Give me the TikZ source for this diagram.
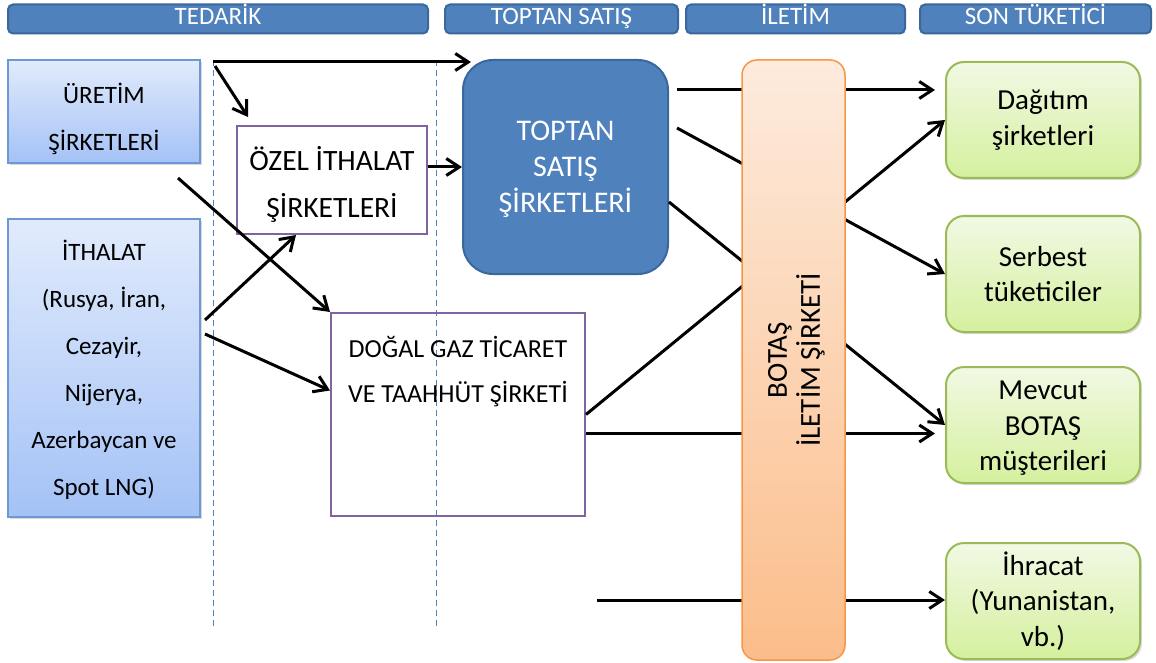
\documentclass[tikz,border=0pt]{standalone}
\usepackage{fontspec}
\setmainfont{Carlito}
\usepackage{tikz}
\usetikzlibrary{arrows.meta, calc, positioning, shadows}

\definecolor{barblue}{HTML}{4F81BD}
\definecolor{bardark}{HTML}{3A679C}
\definecolor{srcline}{HTML}{6F97D3}
\definecolor{srctop}{HTML}{E1EBFC}
\definecolor{srcbottom}{HTML}{A4C2F6}
\definecolor{firmline}{HTML}{8064A2}
\definecolor{pipeline}{HTML}{F79646}
\definecolor{pipetop}{HTML}{FDEBDD}
\definecolor{pipebottom}{HTML}{FBBD8A}
\definecolor{userline}{HTML}{9BBB59}
\definecolor{usertop}{HTML}{F1F9E4}
\definecolor{userbottom}{HTML}{D5F09E}

% taller first line, pushes a text block down
\newcommand{\topgap}[1]{\rule{0pt}{#1}}

\tikzstyle{header} = [rectangle, rounded corners=5pt, draw=bardark, line width=2pt, fill=barblue, text=white, minimum height=29pt, inner sep=0pt, text height=16pt, text depth=4pt, font=\fontsize{25}{30}\selectfont]
\tikzstyle{source} = [rectangle, draw=srcline, line width=1.2pt, top color=srctop, bottom color=srcbottom, minimum width=192pt, inner sep=0pt, align=center, font=\fontsize{25}{47}\selectfont, drop shadow={shadow xshift=2pt, shadow yshift=-2pt, opacity=0.3}]
\tikzstyle{firm} = [rectangle, draw=firmline, line width=2pt, inner sep=0pt, align=center]
\tikzstyle{wholesale} = [rectangle, rounded corners=30pt, draw=bardark, line width=2pt, fill=barblue, text=white, inner sep=0pt, align=center, font=\fontsize{30}{36}\selectfont]
\tikzstyle{pipe} = [rectangle, rounded corners=15pt, draw=pipeline, line width=1.5pt, top color=pipetop, bottom color=pipebottom, inner sep=0pt]
\tikzstyle{consumer} = [rectangle, rounded corners=18pt, draw=userline, line width=2pt, top color=usertop, bottom color=userbottom, minimum width=194pt, minimum height=116pt, inner sep=0pt, align=center, font=\fontsize{29}{35.5}\selectfont, drop shadow={shadow xshift=2pt, shadow yshift=-2pt, opacity=0.3}]
\tikzstyle{arrow} = [line width=3pt, ->, >={Straight Barb[length=13pt, width=17pt]}]
\tikzstyle{guide} = [barblue, line width=1pt, dash pattern=on 6pt off 4pt]

\begin{document}
\begin{tikzpicture}[x=1pt, y=-1pt, node distance=35pt]
    \useasboundingbox (0,0) rectangle (1156,663);
    % column headers
    \node (HeadTedarik) [header, minimum width=420pt] at (218,19) {TEDARİK};
    \node (HeadToptan) [header, minimum width=233pt] at (561.5,19) {TOPTAN SATIŞ};
    \node (HeadIletim) [header, minimum width=219pt] at (795.5,19) {İLETİM};
    \node (HeadSon) [header, minimum width=231pt] at (1035.5,19) {SON TÜKETİCİ};
    % dashed guides
    \draw [guide] (213,60) -- (213,628);
    \draw [guide] (436,60) -- (436,628);
    % supply side
    \node (Uretim) [source, minimum height=103pt] at (104,111.5) {\topgap{35pt}ÜRETİM\\ŞİRKETLERİ};
    \node (Ithalat) [source, minimum height=298pt] at (104,368) {\topgap{25pt}İTHALAT\\(Rusya, İran,\\Cezayir,\\Nijerya,\\Azerbaycan ve\\Spot LNG)};
    \node (OzelIthalat) [firm, minimum width=190pt, minimum height=108pt, font=\fontsize{29.5}{47}\selectfont] at (332,180) {\topgap{32pt}ÖZEL İTHALAT\\ŞİRKETLERİ};
    \node (DogalGaz) [firm, minimum width=254pt, minimum height=203pt, label={[anchor=north, inner sep=0pt, yshift=-24pt, align=center, font=\fontsize{26}{45}\selectfont]north:{DOĞAL GAZ TİCARET\\VE TAAHHÜT ŞİRKETİ}}] at (458,414.5) {};
    \node (ToptanSatis) [wholesale, minimum width=205pt, minimum height=214pt] at (565.5,167) {\topgap{24pt}TOPTAN\\SATIŞ\\ŞİRKETLERİ};
    % end users
    \node (Dagitim) [consumer] at (1043,120) {Dağıtım\\şirketleri};
    \node (Serbest) [consumer, below = 36pt of Dagitim] {Serbest\\tüketiciler};
    \node (Mevcut) [consumer, below = 33pt of Serbest] {\topgap{25pt}Mevcut\\BOTAŞ\\müşterileri};
    \node (Ihracat) [consumer, below = 58pt of Mevcut] {İhracat\\(Yunanistan,\\vb.)};
    % free ends of the flows
    \coordinate (TopStart) at (213,62);
    \coordinate (OzelStart) at (215,66);
    \coordinate (UretimOut) at (178,178);
    \coordinate (IthalatUp) at (205,320);
    \coordinate (IthalatDown) at (205,334);
    \coordinate (ToptanOutA) at (677,90);
    \coordinate (ToptanOutB) at (677,128);
    \coordinate (DogalOut) at ($(DogalGaz.east)+(0,19)$);
    \coordinate (ExportStart) at (597,600);
    \draw [arrow] (TopStart) -- ($(TopStart -| ToptanSatis.west)+(9,0)$);
    \draw [arrow] (OzelStart) -- ($(OzelIthalat.north west)+(12,-8)$);
    \draw [arrow] (OzelIthalat.east |- ToptanSatis.west) -- (ToptanSatis.west);
    \draw [arrow] (UretimOut) -- (DogalGaz.north west);
    \draw [arrow] (IthalatUp) -- ($(OzelIthalat.south west)+(60,0)$);
    \draw [arrow] (IthalatDown) -- ($(DogalGaz.west)+(0,-24)$);
    \draw [arrow, shorten >=10pt] (ToptanOutA) -- (ToptanOutA -| Dagitim.west);
    \draw [arrow] (ToptanOutB) -- (Serbest.west);
    \draw [arrow] ($(ToptanSatis.east)+(0,35)$) -- (Mevcut.west);
    \draw [arrow] (DogalGaz.east) -- (Dagitim.west);
    \draw [arrow, shorten >=10pt] (DogalOut) -- (DogalOut -| Mevcut.west);
    \draw [arrow] (ExportStart) -- (ExportStart -| Ihracat.west);
    % transmission column over the flows
    \node (Botas) [pipe, minimum width=103pt, minimum height=600pt, label={[rotate=90, yshift=-3pt, align=center, font=\fontsize{29}{33}\selectfont]center:{BOTAŞ\\İLETİM ŞİRKETİ}}] at (793.5,360) {};
\end{tikzpicture}
\end{document}
